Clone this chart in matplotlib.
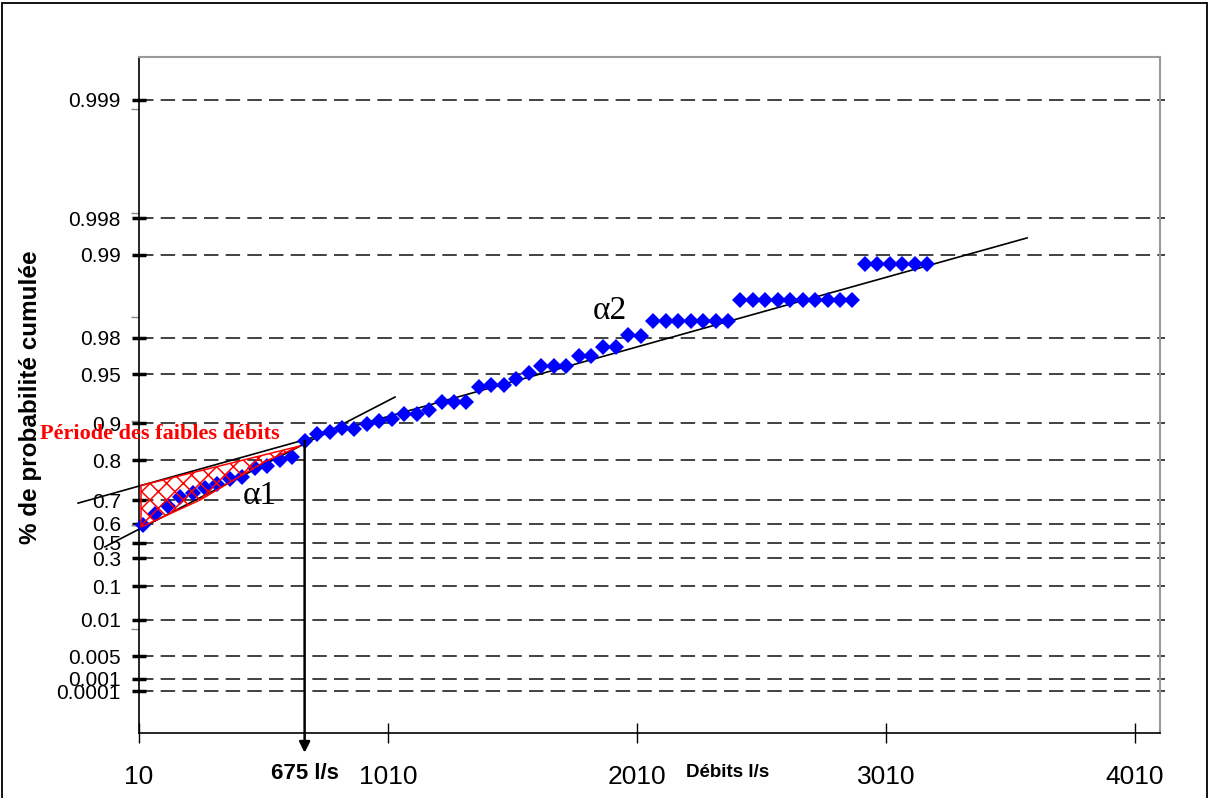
import matplotlib.pyplot as plt
from matplotlib.patches import Polygon, Rectangle

plt.rcParams['font.family'] = ['Liberation Sans', 'DejaVu Sans']

# débits classés (l/s)
debits = [25, 75, 125, 175, 225, 275, 325, 375, 425, 475, 525, 575, 625, 675,
          725, 775, 825, 875, 925, 975, 1025, 1075, 1125, 1175, 1225, 1275,
          1325, 1375, 1425, 1475, 1525, 1575, 1625, 1675, 1725, 1775, 1825,
          1875, 1925, 1975, 2025, 2075, 2125, 2175, 2225, 2275, 2325, 2375,
          2425, 2475, 2525, 2575, 2625, 2675, 2725, 2775, 2825, 2875,
          2925, 2975, 3025, 3075, 3125, 3175]
# position sur l'axe des probabilités (variable réduite)
proba = [2.00, 2.11, 2.18, 2.27, 2.31, 2.36, 2.39, 2.44, 2.46, 2.55, 2.57, 2.62,
         2.65, 2.81, 2.87, 2.89, 2.93, 2.92, 2.97, 3.00, 3.02, 3.07, 3.07, 3.11,
         3.18, 3.18, 3.18, 3.33, 3.35, 3.35, 3.40, 3.46, 3.53, 3.53, 3.53, 3.62,
         3.62, 3.71, 3.71, 3.83, 3.82, 3.96, 3.96, 3.96, 3.96, 3.96, 3.96, 3.96,
         4.16, 4.16, 4.16, 4.16, 4.16, 4.16, 4.16, 4.16, 4.16, 4.16,
         4.51, 4.51, 4.51, 4.51, 4.51, 4.51]

# graduations de probabilité cumulée
prob_labels = ['0.999', '0.998', '0.99', '0.98', '0.95', '0.9', '0.8', '0.7',
               '0.6', '0.5', '0.3', '0.1', '0.01', '0.005', '0.001', '0.0001']
prob_pos = [6.09, 4.95, 4.60, 3.80, 3.45, 2.98, 2.62, 2.24, 2.01, 1.83, 1.68,
            1.41, 1.09, 0.74, 0.52, 0.40]
xticks = [10, 1010, 2010, 3010, 4010]

# droites d'ajustement (deux extrémités)
fit1_x = [-127, 1038]
fit1_y = [1.79, 3.23]
fit2_x = [-235, 3576]
fit2_y = [2.21, 4.76]
q_cassure = 675

# zone des faibles débits
zone_x = [18, 18, 657, 516, 255]
zone_y = [1.98, 2.38, 2.76, 2.61, 2.24]

fig = plt.figure(figsize=(12.1, 7.98), dpi=100)
ax = fig.add_axes([0.1149, 0.0815, 0.8438, 0.8471])
ax.set_xlim(10, 4110)
ax.set_ylim(0, 6.5)

# lignes de grille horizontales en tirets
for p in prob_pos:
    ax.axhline(p, xmin=0, xmax=1.005, color='#333333', lw=1.3,
               dashes=(8, 4), clip_on=False, zorder=1)

ax.plot(fit1_x, fit1_y, color='black', lw=1.2, clip_on=False, zorder=3)
ax.plot(fit2_x, fit2_y, color='black', lw=1.2, clip_on=False, zorder=3)

ax.plot(debits, proba, linestyle='none', marker='D', markersize=8.5,
        color='#0000FF', markeredgewidth=0, zorder=4, clip_on=False)

# zone hachurée
plt.rcParams['hatch.linewidth'] = 1.1
zone = Polygon(list(zip(zone_x, zone_y)), closed=True, facecolor='none',
               edgecolor='red', hatch='xx', lw=1.1, zorder=5)
ax.add_patch(zone)

# flèche au point de cassure
ax.annotate('', xy=(q_cassure, -0.19), xytext=(q_cassure, 2.81),
            arrowprops=dict(arrowstyle='-|>', color='black', lw=1.8,
                            mutation_scale=16, shrinkA=0, shrinkB=0),
            annotation_clip=False, zorder=5)
ax.text(q_cassure, -0.39, '675 l/s', ha='center', va='center',
        fontsize=16, fontweight='bold', clip_on=False)
ax.text(2375, -0.38, 'Débits l/s', ha='center', va='center',
        fontsize=13.5, fontweight='bold', clip_on=False)

ax.text(496, 2.28, 'α1', family=['Liberation Serif', 'DejaVu Serif'],
        fontsize=24, ha='center', va='center')
ax.text(1902, 4.06, 'α2', family=['Liberation Serif', 'DejaVu Serif'],
        fontsize=24, ha='center', va='center')
ax.text(-388, 2.875, 'Période des faibles débits', color='red',
        family=['Liberation Serif', 'DejaVu Serif'], fontweight='bold',
        fontsize=16, ha='left', va='center', clip_on=False)

# axes
ax.set_yticks(prob_pos)
ax.set_yticklabels(prob_labels)
ax.set_yticks([1, 2, 3, 4, 5, 6], minor=True)
ax.tick_params(axis='y', which='major', direction='inout', length=10, width=2.5,
               labelsize=15, pad=8, color='black')
ax.tick_params(axis='y', which='minor', direction='out', length=6, width=1,
               color='#888888')
ax.set_xticks(xticks)
ax.set_xticklabels([str(v) for v in xticks])
ax.tick_params(axis='x', direction='inout', length=14, width=1, labelsize=19,
               pad=16)

for s in ['top', 'right']:
    ax.spines[s].set_color('#999999')
    ax.spines[s].set_linewidth(1.5)
ax.spines['left'].set_linewidth(1.2)
ax.spines['bottom'].set_linewidth(1.2)

ax.set_ylabel('% de probabilité cumulée', fontsize=17.5, fontweight='bold')
ax.yaxis.set_label_coords(-0.095, 0.497)

fig.patches.append(Rectangle((0.0017, -0.05), 0.9958, 1.046, fill=False,
                             lw=1.3, edgecolor='black',
                             transform=fig.transFigure))

fig.savefig('out.png', dpi=100)
